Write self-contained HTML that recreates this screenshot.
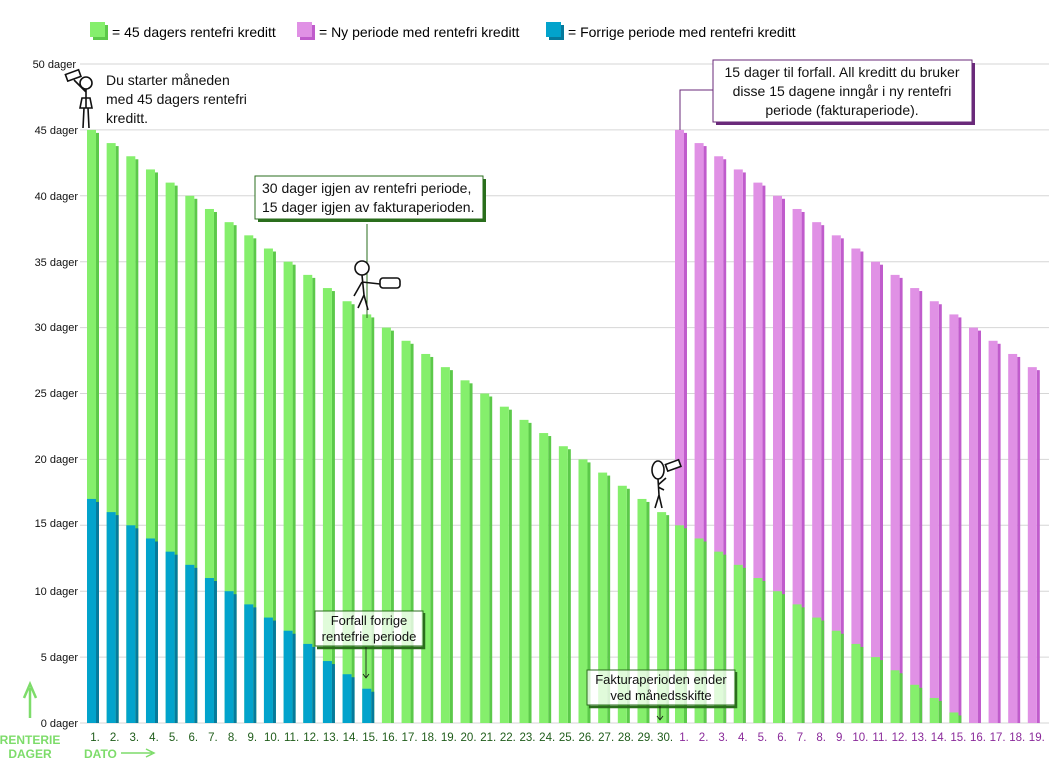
<!DOCTYPE html>
<html><head><meta charset="utf-8"><style>
body{margin:0;background:#fff}
svg{display:block;font-family:"Liberation Sans",sans-serif}
</style></head><body>
<svg id="s" width="1049" height="773" viewBox="0 0 1049 773" xmlns="http://www.w3.org/2000/svg">
<g id="grid" stroke="#d6d6d6" stroke-width="1"></g>
<g id="bars"></g>
<g font-size="11" fill="#111" text-anchor="end">
<text x="76" y="68">50 dager</text><text x="78" y="134">45 dager</text><text x="78" y="200">40 dager</text>
<text x="78" y="266">35 dager</text><text x="78" y="331">30 dager</text><text x="78" y="397">25 dager</text>
<text x="78" y="463">20 dager</text><text x="78" y="527">15 dager</text><text x="78" y="595">10 dager</text>
<text x="78" y="661">5 dager</text><text x="78" y="727">0 dager</text>
</g>
<g id="xl" font-size="11.5" text-anchor="middle"></g>
<rect x="93" y="25" width="15" height="15" fill="#5cc94a"/><rect x="90" y="22" width="15" height="15" fill="#85ef6c"/>
<text x="112" y="37" font-size="14">= 45 dagers rentefri kreditt</text>
<rect x="300" y="25" width="15" height="15" fill="#c05ccc"/><rect x="297" y="22" width="15" height="15" fill="#e091e5"/>
<text x="319" y="37" font-size="14">= Ny periode med rentefri kreditt</text>
<rect x="549" y="25" width="15" height="15" fill="#067a9c"/><rect x="546" y="22" width="15" height="15" fill="#02a3cc"/>
<text x="568" y="37" font-size="14">= Forrige periode med rentefri kreditt</text>
<text font-size="14" fill="#111"><tspan x="106" y="85">Du starter måneden</tspan><tspan x="106" y="104">med 45 dagers rentefri</tspan><tspan x="106" y="123">kreditt.</tspan></text>
<g stroke="#111" stroke-width="1.6" fill="none"><circle cx="86" cy="83" r="6" fill="#fff"/><path d="M86 89 L86 108 M80 108 L92 108 L90 98 L82 98 Z M84 108 L83 128 M88 108 L89 128 M86 92 L74 80"/><rect x="66" y="72" width="14" height="7" transform="rotate(-20 73 75)" fill="#fff"/></g>
<line x1="367" y1="224" x2="367" y2="318" stroke="#2a6e1c" stroke-width="1"/>
<rect x="258" y="179" width="228" height="43" fill="#2a6e1c"/><rect x="255" y="176" width="228" height="43" fill="#fff" stroke="#2a6e1c"/>
<text font-size="14" fill="#111"><tspan x="262" y="193">30 dager igjen av rentefri periode,</tspan><tspan x="262" y="212">15 dager igjen av fakturaperioden.</tspan></text>
<g stroke="#111" stroke-width="1.6" fill="none"><circle cx="362" cy="268" r="7" fill="#fff"/><path d="M362 275 L364 295 L358 308 M364 295 L368 310 M362 282 L354 296 M362 282 L380 284"/><rect x="380" y="278" width="20" height="10" rx="3" fill="#fff"/></g>
<path d="M680 130 L680 90 L713 90" stroke="#6a2a7a" fill="none"/>
<rect x="716" y="63" width="259" height="62" fill="#6a2a7a"/><rect x="713" y="60" width="259" height="62" fill="#fff" stroke="#6a2a7a"/>
<text font-size="14" fill="#111" text-anchor="middle"><tspan x="842" y="77">15 dager til forfall. All kreditt du bruker</tspan><tspan x="842" y="96">disse 15 dagene inngår i ny rentefri</tspan><tspan x="842" y="115">periode (fakturaperiode).</tspan></text>
<g stroke="#111" stroke-width="1.6" fill="none"><ellipse cx="658" cy="470" rx="6" ry="9" fill="#fff"/><path d="M658 479 L659 495 L655 508 M659 495 L662 508 M658 485 L666 478 M658 487 L664 490"/><rect x="666" y="462" width="14" height="7" transform="rotate(-20 673 465)" fill="#fff"/></g>
<rect x="315" y="611" width="108" height="35" fill="rgba(255,255,255,.75)" stroke="#2a6e1c"/>
<path d="M424 613 V648 H317" stroke="#2a6e1c" stroke-width="2.5" fill="none"/>
<text font-size="13" fill="#111" text-anchor="middle"><tspan x="369" y="625">Forfall forrige</tspan><tspan x="369" y="641">rentefrie periode</tspan></text>
<path d="M366 647 V677 M363 674 L366 678 L369 674" stroke="#111" stroke-width=".8" fill="none"/>
<rect x="587" y="670" width="148" height="35" fill="rgba(255,255,255,.75)" stroke="#2a6e1c"/>
<path d="M736 672 V707 H589" stroke="#2a6e1c" stroke-width="2.5" fill="none"/>
<text font-size="13" fill="#111" text-anchor="middle"><tspan x="661" y="684">Fakturaperioden ender</tspan><tspan x="661" y="700">ved månedsskifte</tspan></text>
<path d="M660 706 V719 M657 716 L660 720 L663 716" stroke="#111" stroke-width=".8" fill="none"/>
<path d="M30 718 V688 M24 698 L30 684 L36 698" stroke="#7ddc6a" stroke-width="2.5" fill="none"/>
<text font-size="12" font-weight="bold" fill="#7ddc6a" text-anchor="middle"><tspan x="30" y="744">RENTERIE</tspan><tspan x="30" y="758">DAGER</tspan></text>
<text x="84" y="758" font-size="12" font-weight="bold" fill="#7ddc6a">DATO</text>
<path d="M121 753 H152 M146 749 L154 753 L146 757" stroke="#7ddc6a" stroke-width="1.5" fill="none"/>
</svg>
<script>
var NS="http://www.w3.org/2000/svg";
function y(v){return 723-13.18*v;}
function r(g,x,y1,w,h,c){var e=document.createElementNS(NS,"rect");e.setAttribute("x",x);e.setAttribute("y",y1);e.setAttribute("width",w);e.setAttribute("height",Math.max(0,h));e.setAttribute("fill",c);g.appendChild(e);}
var grid=document.getElementById("grid");
for(var v=0;v<=50;v+=5){var l=document.createElementNS(NS,"line");l.setAttribute("x1",80);l.setAttribute("x2",1049);l.setAttribute("y1",y(v));l.setAttribute("y2",y(v));grid.appendChild(l);}
var B=document.getElementById("bars"),XL=document.getElementById("xl");
function bar(x,top,split,cTop,sTop,cBot,sBot){
 r(B,x+9,y(top)+3,3,723-y(top)-3,sTop);
 r(B,x,y(top),9,723-y(top),cTop);
 if(split>0){r(B,x+9,y(split)+3,3,723-y(split)-3,sBot);r(B,x,y(split),9,723-y(split),cBot);}
}
function lab(x,t,c){var e=document.createElementNS(NS,"text");e.setAttribute("x",x);e.setAttribute("y",741);e.setAttribute("fill",c);e.textContent=t;XL.appendChild(e);}
var blue=[17,16,15,14,13,12,11,10,9,8,7,6,4.7,3.7,2.6];
for(var i=0;i<30;i++){var x=87+19.66*i;bar(x,45-i,i<15?blue[i]:0,"#85ef6c","#5cc94a","#02a3cc","#067a9c");lab(x+8,(i+1)+".","#1f5c1a");}
var gr=[15,14,13,12,11,10,9,8,7,6,5,4,2.9,1.9,0.8];
for(var j=0;j<19;j++){var x=675+19.6*j;bar(x,45-j,j<15?gr[j]:0,"#e091e5","#c05ccc","#85ef6c","#5cc94a");lab(x+9,(j+1)+".","#8a2a9a");}
</script>
</body></html>
